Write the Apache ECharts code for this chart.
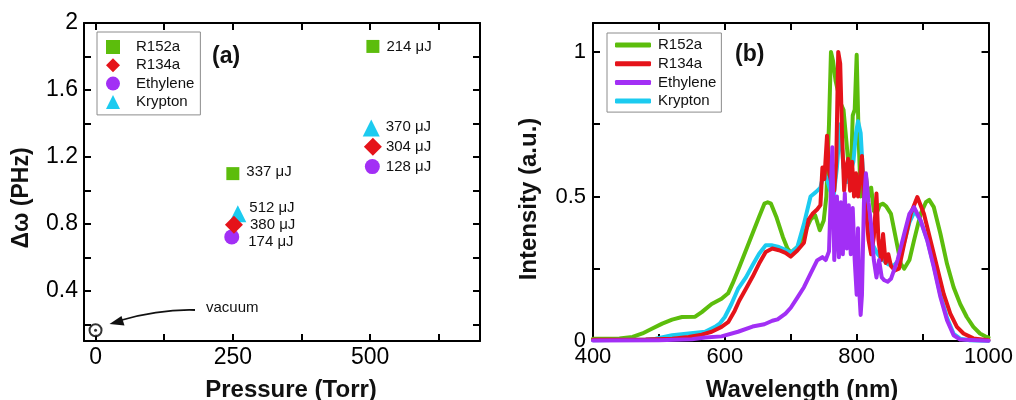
<!DOCTYPE html>
<html>
<head>
<meta charset="utf-8">
<title>Spectral broadening in molecular gases</title>
<script src="https://cdn.jsdelivr.net/npm/echarts@6/dist/echarts.min.js"></script>
<style>
  html, body { margin: 0; padding: 0; background: #fff; }
  #chart { width: 1016px; height: 400px; }
</style>
</head>
<body>
<div id="chart"></div>
<script>
// ---------- (a) bandwidth vs. gas pressure ----------
const gasNames = ['R152a', 'R134a', 'Ethylene', 'Krypton'];

const r152aPressure = [250, 505];
const r152aWidth = [1.10, 1.86];
const r152aEnergy = [337, 214];

const r134aPressure = [252, 505];
const r134aWidth = [0.795, 1.26];
const r134aEnergy = [380, 304];

const ethylenePressure = [248, 504];
const ethyleneWidth = [0.722, 1.142];
const ethyleneEnergy = [174, 128];

const kryptonPressure = [259, 502];
const kryptonWidth = [0.86, 1.372];
const kryptonEnergy = [512, 370];

const vacuumPressure = [0];
const vacuumWidth = [0.164];

const pressureTicks = [0, 125, 250, 375, 500, 625];
const pressureLabels = [0, 250, 500];
const widthTicks = [0.2, 0.4, 0.6, 0.8, 1.0, 1.2, 1.4, 1.6, 1.8, 2.0];
const widthLabels = [0.4, 0.8, 1.2, 1.6, 2.0];

// ---------- (b) output spectra ----------
const r152aWavelength = [400, 440, 460, 475, 490, 505, 520, 535, 555, 565, 580, 595, 605, 612, 622, 632, 642, 652, 660, 665, 670, 678, 688, 695, 700, 710, 720, 730, 737, 744, 750, 754, 758, 761, 764, 768, 772, 776, 780, 784, 788, 791, 794, 797, 800, 803, 806, 810, 814, 818, 822, 826, 830, 835, 840, 845, 852, 860, 867, 872, 880, 887, 897, 905, 910, 917, 927, 937, 947, 957, 967, 977, 987, 997, 1000];
const r152aIntensity = [0.008, 0.009, 0.014, 0.026, 0.043, 0.060, 0.074, 0.083, 0.084, 0.100, 0.128, 0.146, 0.165, 0.200, 0.256, 0.314, 0.372, 0.430, 0.475, 0.480, 0.475, 0.430, 0.360, 0.320, 0.305, 0.325, 0.370, 0.420, 0.435, 0.383, 0.417, 0.500, 0.750, 1.000, 0.970, 0.900, 0.860, 0.820, 0.800, 0.700, 0.600, 0.550, 0.780, 0.800, 0.990, 0.700, 0.500, 0.520, 0.570, 0.500, 0.530, 0.450, 0.440, 0.470, 0.475, 0.465, 0.440, 0.348, 0.267, 0.250, 0.280, 0.348, 0.440, 0.480, 0.488, 0.463, 0.371, 0.267, 0.186, 0.128, 0.083, 0.049, 0.026, 0.014, 0.012];

const r134aWavelength = [400, 480, 520, 545, 565, 580, 595, 605, 615, 622, 632, 642, 652, 662, 672, 682, 692, 700, 710, 720, 727, 733, 740, 745, 748, 751, 755, 758, 762, 766, 769, 772, 775, 778, 781, 784, 787, 790, 793, 796, 799, 802, 805, 808, 811, 814, 818, 822, 826, 830, 833, 837, 840, 844, 848, 852, 858, 864, 872, 882, 892, 902, 912, 922, 932, 942, 952, 962, 977, 1000];
const r134aIntensity = [0.004, 0.005, 0.008, 0.014, 0.022, 0.032, 0.049, 0.065, 0.105, 0.140, 0.181, 0.222, 0.268, 0.308, 0.320, 0.314, 0.305, 0.292, 0.313, 0.340, 0.420, 0.440, 0.455, 0.470, 0.600, 0.560, 0.710, 0.590, 0.540, 0.520, 0.620, 1.000, 0.960, 0.700, 0.520, 0.600, 0.630, 0.520, 0.620, 0.500, 0.580, 0.500, 0.560, 0.640, 0.500, 0.450, 0.350, 0.300, 0.360, 0.510, 0.350, 0.280, 0.370, 0.270, 0.300, 0.260, 0.244, 0.250, 0.336, 0.440, 0.498, 0.440, 0.348, 0.255, 0.163, 0.095, 0.049, 0.026, 0.009, 0.003];

const ethyleneWavelength = [400, 500, 550, 570, 595, 620, 642, 660, 672, 680, 692, 700, 710, 720, 730, 740, 748, 753, 758, 763, 766, 770, 773, 776, 779, 782, 785, 788, 791, 794, 797, 800, 802, 804, 806, 808, 811, 814, 818, 822, 826, 830, 834, 838, 842, 847, 852, 862, 872, 880, 887, 897, 907, 917, 927, 937, 947, 957, 1000];
const ethyleneIntensity = [0.002, 0.003, 0.006, 0.012, 0.016, 0.032, 0.050, 0.058, 0.070, 0.075, 0.095, 0.115, 0.150, 0.186, 0.233, 0.279, 0.290, 0.280, 0.310, 0.670, 0.280, 0.500, 0.290, 0.480, 0.300, 0.510, 0.320, 0.470, 0.300, 0.460, 0.280, 0.160, 0.390, 0.170, 0.090, 0.160, 0.480, 0.580, 0.480, 0.400, 0.280, 0.220, 0.280, 0.220, 0.210, 0.205, 0.215, 0.280, 0.370, 0.440, 0.463, 0.417, 0.348, 0.255, 0.152, 0.072, 0.020, 0.005, 0.001];

const kryptonWavelength = [400, 480, 495, 520, 545, 570, 585, 592, 600, 610, 620, 632, 642, 652, 662, 672, 682, 692, 700, 710, 720, 730, 738, 745, 750, 755, 760, 765, 770, 775, 780, 785, 790, 795, 799, 802, 806, 809, 812, 818, 825, 832, 840, 848, 856, 864, 872, 880, 888, 897, 907, 917, 927, 937, 947, 957, 970, 1000];
const kryptonIntensity = [0.003, 0.005, 0.008, 0.020, 0.026, 0.032, 0.049, 0.060, 0.083, 0.128, 0.180, 0.220, 0.262, 0.302, 0.331, 0.331, 0.325, 0.315, 0.305, 0.325, 0.405, 0.500, 0.515, 0.530, 0.580, 0.560, 0.520, 0.500, 0.600, 0.750, 0.600, 0.550, 0.580, 0.620, 0.720, 0.760, 0.720, 0.600, 0.500, 0.420, 0.330, 0.300, 0.280, 0.265, 0.260, 0.280, 0.340, 0.410, 0.450, 0.415, 0.350, 0.260, 0.160, 0.080, 0.025, 0.008, 0.003, 0.001];

const wavelengthTicks = [400, 500, 600, 700, 800, 900, 1000];
const wavelengthLabels = [400, 600, 800, 1000];
const intensityTicks = [0, 0.25, 0.5, 0.75, 1];
const intensityLabels = [0, 0.5, 1];

// ---------- styling ----------
const FONT = '"Liberation Sans", Arial, Helvetica, sans-serif';
const COLORS = {
  R152a: '#5cbd0c',
  R134a: '#e5131a',
  Ethylene: '#a22ff5',
  Krypton: '#1ccbf0'
};
const SPECTRUM_SUFFIX = ' spectrum';

// nudges for the pulse-energy labels beside each marker, in px
const labelNudge = {
  R152a: [[2, -2], [2, 0]],
  R134a: [[2, 0], [-1, 0]],
  Ethylene: [[4, 5], [1, 0]],
  Krypton: [[-2, -6], [1, -1]]
};

function pointsWithEnergy(name, xs, ys, energies) {
  return xs.map((x, i) => ({
    value: [x, ys[i]],
    energy: energies[i],
    label: { offset: labelNudge[name][i] }
  }));
}

function zip(xs, ys) {
  return xs.map((x, i) => [x, ys[i]]);
}

function makeAxis(gridIndex, min, max, ticks, labels, position, showLabels, fontSize, margin) {
  return {
    type: 'value',
    gridIndex: gridIndex,
    min: min,
    max: max,
    position: position,
    axisLine: { show: true, onZero: false, lineStyle: { color: '#000', width: 2 } },
    axisTick: {
      show: true, inside: true, length: 7,
      lineStyle: { color: '#000', width: 2 },
      customValues: ticks
    },
    axisLabel: {
      show: showLabels,
      customValues: labels,
      fontSize: fontSize,
      fontFamily: FONT,
      color: '#000',
      margin: margin,
      formatter: (v) => String(Math.round(v * 100) / 100)
    },
    splitLine: { show: false },
    minorTick: { show: false }
  };
}

const energyLabel = {
  show: true,
  position: 'right',
  distance: 5,
  fontSize: 15,
  fontFamily: FONT,
  color: '#111',
  formatter: (p) => p.data.energy + ' \u03bcJ'
};

function gasScatter(name, symbol, size, xs, ys, energies) {
  return {
    name: name,
    type: 'scatter',
    xAxisIndex: 0,
    yAxisIndex: 0,
    symbol: symbol,
    symbolSize: size,
    itemStyle: { color: COLORS[name], opacity: 1 },
    label: energyLabel,
    emphasis: { disabled: true },
    data: pointsWithEnergy(name, xs, ys, energies)
  };
}

function spectrumLine(name, xs, ys) {
  return {
    name: name + SPECTRUM_SUFFIX,
    type: 'line',
    xAxisIndex: 2,
    yAxisIndex: 2,
    symbol: 'none',
    showSymbol: false,
    smooth: false,
    lineStyle: { color: COLORS[name], width: 4, join: 'round', cap: 'round' },
    itemStyle: { color: COLORS[name] },
    emphasis: { disabled: true },
    data: zip(xs, ys)
  };
}

const chart = echarts.init(document.getElementById('chart'), null, { renderer: 'canvas' });

const option = {
  animation: false,
  backgroundColor: '#fff',
  textStyle: { fontFamily: FONT },
  grid: [
    { left: 84, top: 23, width: 396, height: 318, containLabel: false },
    { left: 593, top: 23, width: 399, height: 318, containLabel: false }
  ],
  xAxis: [
    makeAxis(0, -21, 700, pressureTicks, pressureLabels, 'bottom', true, 23, 5),
    makeAxis(0, -21, 700, pressureTicks, pressureLabels, 'top', false, 23, 5),
    makeAxis(1, 400, 1000, wavelengthTicks, wavelengthLabels, 'bottom', true, 22, 5),
    makeAxis(1, 400, 1000, wavelengthTicks, wavelengthLabels, 'top', false, 22, 5)
  ],
  yAxis: [
    makeAxis(0, 0.1, 2.0, widthTicks, widthLabels, 'left', true, 23, 6),
    makeAxis(0, 0.1, 2.0, widthTicks, widthLabels, 'right', false, 23, 6),
    makeAxis(1, 0, 1.1, intensityTicks, intensityLabels, 'left', true, 22, 7),
    makeAxis(1, 0, 1.1, intensityTicks, intensityLabels, 'right', false, 22, 7)
  ],
  legend: [
    {
      data: gasNames,
      orient: 'vertical',
      left: 97,
      top: 32,
      padding: [7, 6, 5, 9],
      itemWidth: 14,
      itemHeight: 14,
      itemGap: 2.3,
      symbolKeepAspect: true,
      borderColor: '#8c8c8c',
      borderWidth: 1,
      selectedMode: false,
      textStyle: { fontSize: 15, fontFamily: FONT, color: '#111', lineHeight: 16, padding: [0, 0, 0, 11] }
    },
    {
      data: gasNames.map((n) => n + SPECTRUM_SUFFIX),
      orient: 'vertical',
      left: 607,
      top: 33,
      padding: [4, 5, 3, 8],
      icon: 'roundRect',
      itemWidth: 36,
      itemHeight: 5,
      itemGap: 2.7,
      borderColor: '#8c8c8c',
      borderWidth: 1,
      selectedMode: false,
      formatter: (name) => name.replace(SPECTRUM_SUFFIX, ''),
      textStyle: { fontSize: 15, fontFamily: FONT, color: '#111', lineHeight: 16, padding: [0, 0, 0, 2] }
    }
  ],
  series: [
    gasScatter('R152a', 'rect', 13, r152aPressure, r152aWidth, r152aEnergy),
    gasScatter('Krypton', 'triangle', 17, kryptonPressure, kryptonWidth, kryptonEnergy),
    gasScatter('Ethylene', 'circle', 15, ethylenePressure, ethyleneWidth, ethyleneEnergy),
    gasScatter('R134a', 'diamond', 18, r134aPressure, r134aWidth, r134aEnergy),
    {
      name: 'vacuum',
      type: 'scatter',
      xAxisIndex: 0,
      yAxisIndex: 0,
      symbol: 'circle',
      symbolSize: 12,
      itemStyle: { color: '#fff', borderColor: '#000', borderWidth: 2 },
      emphasis: { disabled: true },
      data: zip(vacuumPressure, vacuumWidth)
    },
    {
      name: 'vacuum centre',
      type: 'scatter',
      xAxisIndex: 0,
      yAxisIndex: 0,
      symbol: 'circle',
      symbolSize: 3,
      itemStyle: { color: '#000' },
      emphasis: { disabled: true },
      data: zip(vacuumPressure, vacuumWidth)
    },
    spectrumLine('R152a', r152aWavelength, r152aIntensity),
    spectrumLine('Krypton', kryptonWavelength, kryptonIntensity),
    spectrumLine('R134a', r134aWavelength, r134aIntensity),
    spectrumLine('Ethylene', ethyleneWavelength, ethyleneIntensity)
  ],
  graphic: [
    // panel tags
    { type: 'text', left: 212, top: 45, style: { text: '(a)', font: 'bold 23px ' + FONT, fill: '#111' } },
    { type: 'text', left: 735, top: 43, style: { text: '(b)', font: 'bold 23px ' + FONT, fill: '#111' } },
    // axis titles
    { type: 'text', x: 291, y: 390, style: { text: 'Pressure (Torr)', font: 'bold 24px ' + FONT, fill: '#111', align: 'center', verticalAlign: 'middle' } },
    { type: 'text', x: 802, y: 390, style: { text: 'Wavelength (nm)', font: 'bold 24px ' + FONT, fill: '#111', align: 'center', verticalAlign: 'middle' } },
    { type: 'text', x: 22, y: 198, rotation: Math.PI / 2, style: { text: '\u0394\u03c9 (PHz)', font: 'bold 23px ' + FONT, fill: '#111', align: 'center', verticalAlign: 'middle' } },
    { type: 'text', x: 529, y: 199, rotation: Math.PI / 2, style: { text: 'Intensity (a.u.)', font: 'bold 24px ' + FONT, fill: '#111', align: 'center', verticalAlign: 'middle' } },
    // vacuum annotation with curved arrow
    { type: 'text', x: 206, y: 307.5, style: { text: 'vacuum', font: '15px ' + FONT, fill: '#111', align: 'left', verticalAlign: 'middle' } },
    {
      type: 'bezierCurve',
      shape: { x1: 195, y1: 310, x2: 120, y2: 320.5, cpx1: 160, cpy1: 309 },
      style: { stroke: '#111', lineWidth: 1.8, fill: null }
    },
    {
      type: 'polygon',
      shape: { points: [[109.5, 324], [121.5, 316], [124.5, 325.5]] },
      style: { fill: '#111' }
    }
  ]
};

chart.setOption(option);
</script>
</body>
</html>
